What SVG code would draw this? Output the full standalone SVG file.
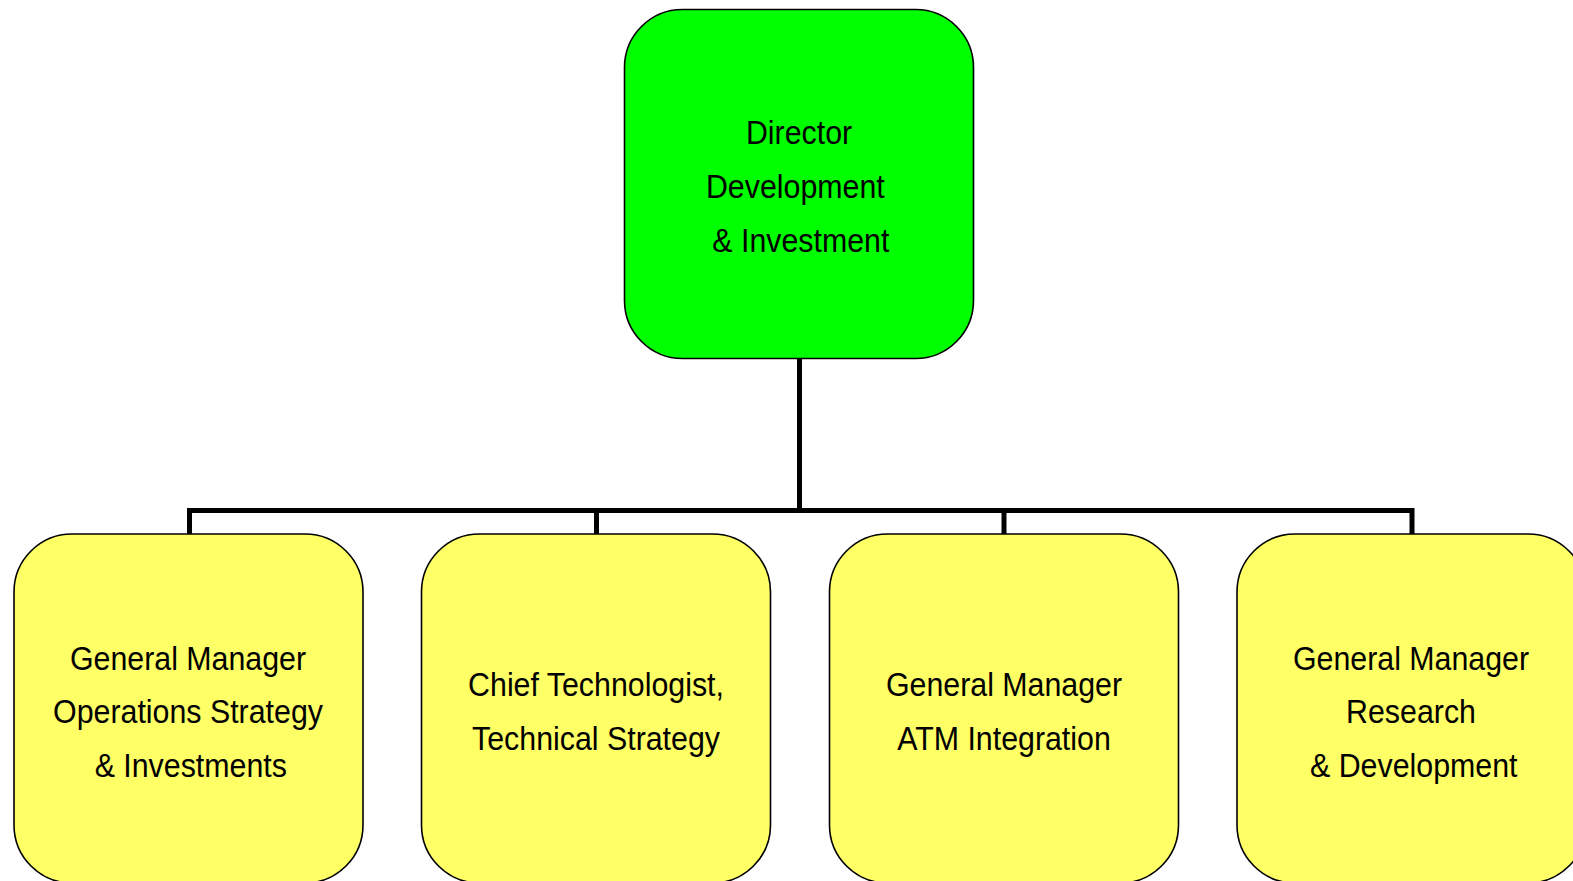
<svg xmlns="http://www.w3.org/2000/svg" width="1573" height="881" viewBox="0 0 1573 881">
  <style>
    .box { stroke: #000; stroke-width: 1.6; }
    .top { fill: #00ff00; }
    .sub { fill: #ffff66; }
    .lbl { font-family: "Liberation Sans", Arial, sans-serif; font-size: 33px; fill: #000; text-anchor: middle; }
    .wire { fill: none; stroke: #000; stroke-width: 5; stroke-linejoin: miter; }
  </style>
  <rect width="1573" height="881" fill="#fff"/>

  <!-- connectors -->
  <g id="connectors">
    <path class="wire" d="M799.5 358 V510.5"/>
    <path class="wire" d="M189.5 535 V510.5 H1412 V535"/>
    <path class="wire" d="M596.5 510.5 V535"/>
    <path class="wire" d="M1004 510.5 V535"/>
  </g>

  <!-- director -->
  <g id="director">
    <rect class="box top" x="624.5" y="9.5" width="349" height="349" rx="58" ry="58"/>
    <g transform="translate(799,0) scale(0.92,1)">
      <text class="lbl" x="0" y="144">Director</text>
      <text class="lbl" x="-4" y="198">Development</text>
      <text class="lbl" x="2" y="252">&amp; Investment</text>
    </g>
  </g>

  <!-- operations strategy -->
  <g id="gm-operations">
    <rect class="box sub" x="14" y="534" width="349" height="349" rx="58" ry="58"/>
    <g transform="translate(188,0) scale(0.92,1)">
      <text class="lbl" x="0" y="670">General Manager</text>
      <text class="lbl" x="0" y="723">Operations Strategy</text>
      <text class="lbl" x="3" y="777">&amp; Investments</text>
    </g>
  </g>

  <!-- technical strategy -->
  <g id="chief-technologist">
    <rect class="box sub" x="421.5" y="534" width="349" height="349" rx="58" ry="58"/>
    <g transform="translate(596,0) scale(0.92,1)">
      <text class="lbl" x="0" y="696">Chief Technologist,</text>
      <text class="lbl" x="0" y="750">Technical Strategy</text>
    </g>
  </g>

  <!-- ATM integration -->
  <g id="gm-atm">
    <rect class="box sub" x="829.5" y="534" width="349" height="349" rx="58" ry="58"/>
    <g transform="translate(1004,0) scale(0.92,1)">
      <text class="lbl" x="0" y="696">General Manager</text>
      <text class="lbl" x="0" y="750">ATM Integration</text>
    </g>
  </g>

  <!-- research and development -->
  <g id="gm-research">
    <rect class="box sub" x="1237" y="534" width="349" height="349" rx="58" ry="58"/>
    <g transform="translate(1411,0) scale(0.92,1)">
      <text class="lbl" x="0" y="670">General Manager</text>
      <text class="lbl" x="0" y="723">Research</text>
      <text class="lbl" x="3" y="777">&amp; Development</text>
    </g>
  </g>
</svg>
